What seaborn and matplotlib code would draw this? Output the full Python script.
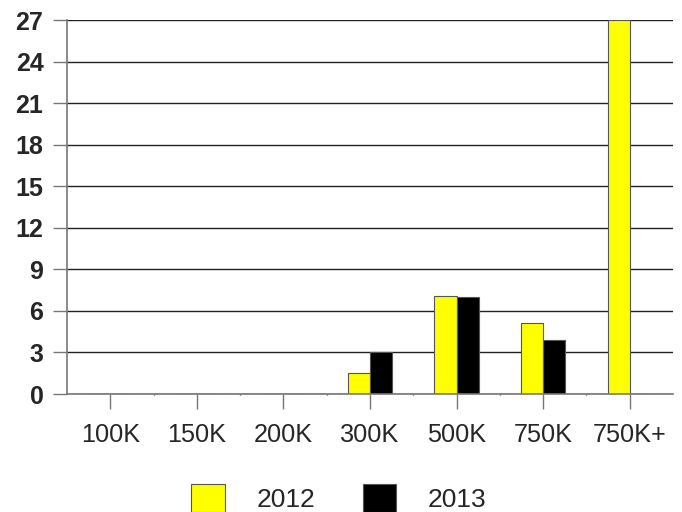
import matplotlib
matplotlib.use("Agg")
import matplotlib.pyplot as plt
import seaborn as sns
import pandas as pd
import numpy as np
from matplotlib.patches import Patch

categories = ["100K", "150K", "200K", "300K", "500K", "750K", "750K+"]
values_2012 = [0, 0, 0, 1.5, 7.1, 5.1, 27]
values_2013 = [0, 0, 0, 3, 7, 3.9, 0]
series = ["2012", "2013"]
colors = {"2012": "#FFFF00", "2013": "#000000"}
yticks = [0, 3, 6, 9, 12, 15, 18, 21, 24, 27]

df = pd.DataFrame({
    "cat": categories * 2,
    "val": values_2012 + values_2013,
    "year": ["2012"] * len(categories) + ["2013"] * len(categories),
})

sns.set_style("white")
plt.rcParams["font.family"] = ["Liberation Sans", "DejaVu Sans"]

fig = plt.figure(figsize=(6.82, 5.12), dpi=100)
ax = fig.add_axes([67 / 682, (512 - 394) / 512, (673 - 67) / 682, (394 - 20) / 512])

sns.barplot(data=df, x="cat", y="val", hue="year", order=categories,
            hue_order=series, palette=colors, width=0.51, ax=ax,
            edgecolor="#555555", linewidth=0.8, legend=False, saturation=1)

ax.set_xlim(-0.5, len(categories) - 0.5)
ax.set_ylim(0, 27)
ax.set_yticks(yticks)
ax.set_yticklabels([str(t) for t in yticks], fontsize=18, fontweight="bold")
ax.set_xticks(range(len(categories)))
ax.set_xticklabels(categories, fontsize=18.2)
ax.set_xticks(np.arange(0.5, len(categories) - 0.5, 1), minor=True)
ax.set_xlabel("")
ax.set_ylabel("")

ax.yaxis.grid(True, color="#222222", linewidth=1)
ax.set_axisbelow(True)
for s in ["top", "right"]:
    ax.spines[s].set_visible(False)
for s in ["left", "bottom"]:
    ax.spines[s].set_color("#777777")
    ax.spines[s].set_linewidth(1.2)

ax.tick_params(axis="y", which="major", direction="out", length=10, width=1,
               color="#777777", pad=7, left=True)
ax.tick_params(axis="x", which="major", direction="out", length=11, width=1,
               color="#777777", pad=10, bottom=True)
ax.tick_params(axis="x", which="minor", direction="out", length=1, width=1,
               color="#333333", bottom=True)

handles = [Patch(facecolor=colors[s], edgecolor="#555555", linewidth=0.8) for s in series]
fig.legend(handles, series, loc="center", bbox_to_anchor=(339 / 682, 14 / 512),
           ncol=2, frameon=False, fontsize=19, handlelength=1.27, handleheight=1.27,
           handletextpad=1.2, columnspacing=1.8, borderaxespad=0, borderpad=0)

fig.savefig("out.png", dpi=100)
